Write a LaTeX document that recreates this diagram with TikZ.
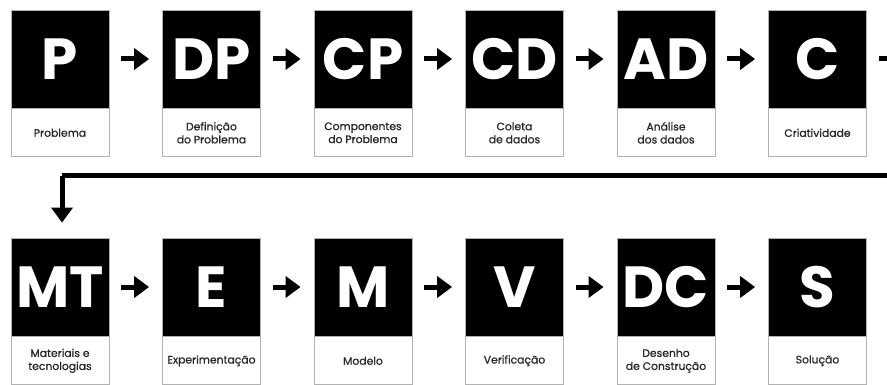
\documentclass[tikz,border=0pt]{standalone}
\usepackage{fontspec}
\setmainfont{Poppins}[FakeBold=0.7]
\newfontfamily\bigfont{Poppins}
\usetikzlibrary{arrows.meta,positioning}
\tikzset{
  blk/.style={draw=gray!60, line width=0.8pt, fill=black, text=white, minimum width=98pt, minimum height=98pt, inner sep=0pt, font=\bigfont\bfseries\fontsize{58}{58}\selectfont},
  lbl/.style={draw=gray!60, line width=0.8pt, fill=white, minimum width=98pt, minimum height=48pt, inner sep=0pt, align=center, font=\fontsize{10.8}{13}\selectfont, text=black!85, below=0pt of #1},
  conn/.style={line width=5pt, -{Triangle[length=15pt,width=21pt]}},
  longline/.style={line width=5pt}
}
\begin{document}
\begin{tikzpicture}[x=1pt,y=-1pt]
\useasboundingbox (0,0) rectangle (887,385);
\clip (0,0) rectangle (887,385);
\fill[white] (0,0) rectangle (887,385);
% top row
\node[blk] (p)  at (60,59)    {P};
\node[blk] (dp) at (211.5,59) {DP};
\node[blk] (cp) at (363,59)   {CP};
\node[blk] (cd) at (514.5,59) {CD};
\node[blk] (ad) at (666,59)   {AD};
\node[blk] (c)  at (817.5,59) {C};
\node[lbl=p]  (pl)  {Problema};
\node[lbl=dp] (dpl) {Definição\\do Problema};
\node[lbl=cp] (cpl) {Componentes\\do Problema};
\node[lbl=cd] (cdl) {Coleta\\de dados};
\node[lbl=ad] (adl) {Análise\\dos dados};
\node[lbl=c]  (cl)  {Criatividade};
% bottom row
\node[blk] (mt) at (60,287)    {MT};
\node[blk] (e)  at (211.5,287) {E};
\node[blk] (m)  at (363,287)   {M};
\node[blk] (v)  at (514.5,287) {V};
\node[blk] (dc) at (666,287)   {DC};
\node[blk] (s)  at (817.5,287) {S};
\node[lbl=mt] (mtl) {Materiais e\\tecnologias};
\node[lbl=e]  (el)  {Experimentação};
\node[lbl=m]  (ml)  {Modelo};
\node[lbl=v]  (vl)  {Verificação};
\node[lbl=dc] (dcl) {Desenho\\de Construção};
\node[lbl=s]  (sl)  {Solução};
% arrows
\foreach \a/\b in {p/dp,dp/cp,cp/cd,cd/ad,ad/c,mt/e,e/m,m/v,v/dc,dc/s}{
  \draw[conn] ([xshift=12pt]\a.east) -- ([xshift=-13pt]\b.west);
}
\coordinate (turn) at (62,176);
\draw[longline] ([xshift=12pt]c.east) -- ++(40,0) |- (turn);
\draw[conn] (turn) -- ([yshift=15pt]mt.north -| turn);
\end{tikzpicture}
\end{document}
